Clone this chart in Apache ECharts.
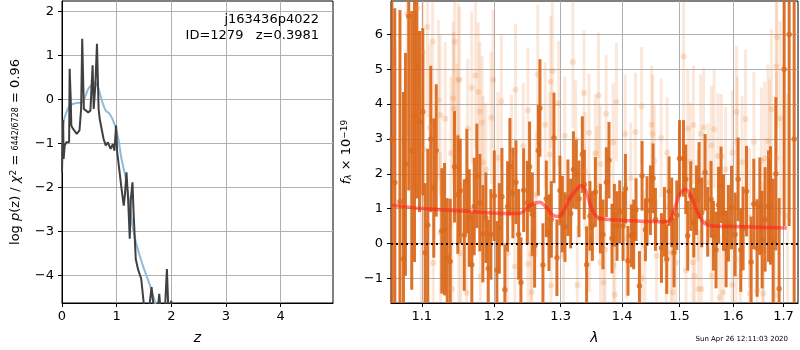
<!DOCTYPE html>
<html>
<head>
<meta charset="utf-8">
<script src="https://cdn.jsdelivr.net/npm/echarts@6/dist/echarts.min.js"></script>
<style>
  html, body { margin: 0; padding: 0; background: #fff; }
  #chart { width: 800px; height: 350px; }
</style>
</head>
<body>
<div id="chart"></div>
<script>
// left panel: log p(z)
const zSmooth = [0.00, 0.03, 0.08, 0.15, 0.26, 0.38, 0.43, 0.49, 0.60, 0.66, 0.72, 0.80, 0.87, 0.96, 1.03, 1.09, 1.17, 1.24, 1.30, 1.37, 1.48, 1.61, 1.78];
const pSmooth = [-1.00, -0.52, -0.30, -0.14, -0.09, -0.07, 0.08, 0.25, 0.37, 0.27, 0.01, -0.26, -0.33, -0.56, -0.90, -1.36, -1.81, -2.42, -2.95, -3.33, -3.78, -4.23, -4.95];

const zRaw = [0.00, 0.02, 0.03, 0.05, 0.08, 0.11, 0.13, 0.14, 0.16, 0.17, 0.20, 0.23, 0.27, 0.32, 0.35, 0.37, 0.40, 0.43, 0.48, 0.52, 0.56, 0.58, 0.61, 0.64, 0.67, 0.69, 0.76, 0.80, 0.84, 0.89, 0.93, 0.96, 0.99, 1.01, 1.04, 1.09, 1.13, 1.15, 1.18, 1.21, 1.24, 1.26, 1.29, 1.31, 1.35, 1.39, 1.45, 1.51, 1.58, 1.64, 1.69, 1.75, 1.78, 1.81, 1.88, 1.92, 1.95, 2.00, 2.03];
const pRaw = [-1.66, -0.48, -1.36, -1.05, -0.98, -1.02, -0.98, 0.69, 0.00, -0.60, -0.67, -0.64, -0.79, -0.71, -0.22, 1.37, -0.22, -0.18, -0.30, -0.26, 0.77, -0.22, 0.31, 1.26, -0.22, -0.45, -0.90, -1.05, -0.98, -1.13, -1.02, -1.17, -0.60, -1.20, -1.51, -2.04, -2.42, -2.19, -1.66, -2.27, -3.17, -2.27, -1.89, -2.57, -3.63, -3.86, -4.08, -4.80, -4.90, -4.27, -4.90, -4.85, -4.42, -4.90, -4.90, -3.86, -4.90, -4.58, -4.90];

// right panel: spectrum
const darkWave = [1.0612, 1.0648, 1.0715, 1.0760, 1.0786, 1.0829, 1.0868, 1.0904, 1.0934, 1.0970, 1.1013, 1.1045, 1.1080, 1.1120, 1.1160, 1.1193, 1.1268, 1.1305, 1.1342, 1.1383, 1.1442, 1.1488,
  1.1521, 1.1577, 1.1613, 1.1647, 1.1683, 1.1717, 1.1754, 1.1796, 1.1839, 1.1882, 1.1916, 1.1954, 1.2003, 1.2041, 1.2076, 1.2114, 1.2157, 1.2197, 1.2231, 1.2275, 1.2320, 1.2360, 1.2394, 1.2435,
  1.2490, 1.2524, 1.2565, 1.2600, 1.2656, 1.2681, 1.2727, 1.2779, 1.2819, 1.2856, 1.2897, 1.2943, 1.2990, 1.3028, 1.3069, 1.3116, 1.3159, 1.3202, 1.3249, 1.3291, 1.3345, 1.3377, 1.3414, 1.3468, 1.3507,
  1.3556, 1.3638, 1.3681, 1.3737, 1.3780, 1.3830, 1.3870, 1.3914, 1.3959, 1.4015, 1.4055, 1.4099, 1.4157, 1.4196, 1.4236, 1.4294, 1.4339, 1.4398, 1.4426, 1.4485, 1.4530, 1.4572, 1.4678,
  1.4731, 1.4772, 1.4813, 1.4861, 1.4902, 1.4951, 1.5000, 1.5072, 1.5114, 1.5150, 1.5205, 1.5260, 1.5310, 1.5358, 1.5408, 1.5469, 1.5519, 1.5581, 1.5626, 1.5675, 1.5721, 1.5770, 1.5816, 1.5866, 1.5911,
  1.5969, 1.6039, 1.6097, 1.6149, 1.6194, 1.6260, 1.6351, 1.6404, 1.6469, 1.6523, 1.6569, 1.6628, 1.6697, 1.6737, 1.6790, 1.6844, 1.6911, 1.7014, 1.7117, 1.7220];
const darkFlux = [3.00, 1.75, 1.20, -0.45, 2.27, 6.52, 2.67, 3.67, 5.09, 3.50, 3.78, -0.27, 0.52, 3.00, 1.59, 2.67, 0.36, 0.41, -0.40, -0.52, 2.20, 1.40,
  1.51, 0.24, 1.79, 0.73, -0.61, 1.06, 1.94, 1.17, 0.28, 0.74, -0.72, 0.26, 1.37, -0.76, 0.43, 1.34, -1.33, 1.06, 2.20, 1.45, 1.76, 0.26, -1.12, 1.53,
  1.17, 2.20, 0.84, -0.07, 2.67, 3.89, -0.62, 1.28, 0.31, 0.69, 3.03, -0.41, 1.52, 0.84, 0.47, 1.31, 0.86, 2.12, 1.98, 1.28, 2.55, 1.69, -0.61, 0.79, 0.50,
  1.48, 0.71, 0.26, 1.76, 2.39, 0.14, 0.81, 0.50, 0.91, 0.50, 1.57, -0.50, 0.22, 0.26, 0.97, -1.22, 1.94, 0.39, 0.93, 1.24, 1.87, 0.69, -0.13,
  0.62, -0.45, 1.50, 0.89, -0.26, 0.81, 2.44, 2.44, 1.84, 0.22, 1.36, 0.60, 1.24, 1.81, 0.89, 2.04, 0.62, 1.27, 0.22, -0.19, 1.10, 1.68, 0.89, -0.16, 0.58,
  1.03, 0.26, 1.84, -0.19, 0.43, 1.50, -0.53, 1.13, -0.13, 1.07, 0.11, 0.69, 1.07, 1.09, 0.06, 2.00, -1.30, 5.00, 6.00, 3.00];
const darkErr = [6.0, 5.0, 5.5, 4.8, 3.2, 5.0, 4.0, 4.2, 3.8, 2.6, 2.4, 2.0, 2.2, 2.1, 2.0, 1.9, 1.8, 1.9, 1.7, 1.8, 1.6, 1.7,
  1.5, 1.6, 1.5, 1.4, 1.5, 1.4, 1.5, 1.4, 1.4, 1.3, 1.4, 1.3, 1.3, 1.4, 1.3, 1.4, 1.3, 1.3, 1.4, 1.3, 1.2, 1.3, 1.3, 1.2,
  1.2, 1.3, 1.2, 1.2, 1.3, 1.4, 1.2, 1.1, 1.1, 1.1, 1.3, 1.1, 1.0, 1.1, 1.0, 1.1, 1.0, 1.1, 1.0, 1.1, 1.1, 1.0, 1.1, 1.0, 1.0,
  1.0, 1.0, 1.0, 1.0, 1.1, 1.0, 0.9, 1.0, 0.9, 1.0, 1.0, 1.0, 0.9, 1.0, 0.9, 1.0, 1.0, 0.9, 1.0, 1.0, 1.0, 0.9, 1.0,
  1.0, 1.0, 1.0, 1.0, 1.0, 1.0, 1.1, 1.1, 1.0, 1.0, 1.0, 1.0, 1.0, 1.1, 1.0, 1.1, 1.0, 1.1, 1.0, 1.1, 1.1, 1.1, 1.1, 1.1, 1.1,
  1.2, 1.2, 1.2, 1.2, 1.2, 1.3, 1.3, 1.3, 1.4, 1.4, 1.4, 1.5, 1.6, 1.7, 1.8, 2.2, 2.6, 4.5, 5.5, 6.0];

const lightWave = [1.0652, 1.0810, 1.0940, 1.0992, 1.1014, 1.1028, 1.1075, 1.1107, 1.1144, 1.1153, 1.1222, 1.1246, 1.1250, 1.1315, 1.1394, 1.1408, 1.1422, 1.1431, 1.1444, 1.1478, 1.1492, 1.1500,
  1.1510, 1.1528, 1.1611, 1.1625, 1.1681, 1.1736, 1.1773, 1.1797, 1.1803, 1.1829, 1.1843, 1.1881, 1.1958, 1.1986, 1.2055, 1.2105, 1.2194, 1.2254, 1.2304, 1.2313, 1.2428,
  1.2498, 1.2503, 1.2548, 1.2555, 1.2623, 1.2648, 1.2761, 1.2832, 1.2847, 1.2852, 1.2872, 1.2970, 1.3048, 1.3065, 1.3194, 1.3237, 1.3265, 1.3371, 1.3387, 1.3452, 1.3460,
  1.3555, 1.3581, 1.3608, 1.3635, 1.3640, 1.3688, 1.3716, 1.3732, 1.3850, 1.3855, 1.3877, 1.3903, 1.4052, 1.4070, 1.4146, 1.4226, 1.4331, 1.4335, 1.4390, 1.4505, 1.4523, 1.4552, 1.4592,
  1.4674, 1.4761, 1.4779, 1.4848, 1.4878, 1.4935, 1.5075, 1.5118, 1.5150, 1.5199, 1.5244, 1.5255, 1.5274, 1.5338, 1.5345, 1.5387, 1.5400, 1.5443, 1.5526, 1.5588, 1.5593, 1.5638, 1.5713, 1.5744, 1.5775, 1.5807, 1.5856,
  1.5981, 1.5987, 1.6054, 1.6066, 1.6080, 1.6140, 1.6174, 1.6240, 1.6320, 1.6325, 1.6406, 1.6474, 1.6554, 1.6586, 1.6590, 1.6620, 1.6686, 1.6720, 1.6754, 1.6820, 1.6854, 1.6860, 1.6866, 1.6934, 1.7086];
const lightFlux = [1.08, 6.60, 6.75, 1.27, 5.50, 2.70, 6.22, 3.32, 5.79, -0.56, 4.11, 3.68, 0.31, 3.58, 2.59, -1.31, 4.17, 3.87, 5.79, 3.06, 4.70, 0.13,
  4.70, -0.28, -1.42, 3.30, 4.47, 4.82, 4.35, 3.79, -0.95, 3.47, 2.33, 2.12, 3.61, 4.70, 2.46, 4.08, -0.28, 2.46, -0.66, 4.41, 2.80,
  3.82, -0.59, -0.31, -1.40, 1.40, 4.85, 3.41, 2.55, 4.64, -1.21, 4.95, 4.02, -0.36, 3.09, 5.21, 2.98, -1.19, 4.32, 2.07, 3.18, 0.31,
  2.58, 1.67, 4.25, 2.27, -0.55, -1.12, -0.18, 3.72, 2.90, -0.62, -1.47, 4.06, 3.15, 0.14, 1.87, 3.20, 3.94, -1.00, -0.07, 3.41, 3.15, 2.37, -0.36,
  3.03, -0.50, 2.60, -0.26, -1.40, -0.55, 5.37, -0.78, 3.30, 2.34, -0.55, 3.40, -0.93, 1.08, -1.31, 3.15, -1.31, 3.33, 1.75, 2.82, -0.93, 3.28, 2.51, -1.55, 2.49, -1.40, 2.13,
  -1.19, 2.60, -0.45, 3.77, 2.89, -0.93, 2.33, 3.57, 0.74, -1.44, 2.92, -1.35, 2.37, -0.35, -1.44, 2.44, 2.94, 2.51, 3.85, -1.49, 5.09, 2.44, 5.93, 3.59, 0.79];
const lightErr = [4.5, 3.5, 3.2, 3.0, 2.8, 2.8, 2.6, 2.4, 2.5, 2.4, 2.3, 2.3, 2.3, 2.2, 2.2, 2.3, 2.2, 2.2, 2.4, 2.1, 2.2, 2.1,
  2.1, 2.0, 2.1, 2.0, 2.2, 2.1, 2.0, 2.0, 2.0, 1.9, 1.9, 1.9, 1.9, 2.0, 1.9, 1.9, 1.9, 1.8, 1.9, 1.9, 1.8,
  1.8, 1.8, 1.8, 1.8, 1.8, 2.0, 1.8, 1.8, 1.9, 1.8, 2.0, 1.8, 1.7, 1.7, 1.9, 1.7, 1.7, 1.8, 1.7, 1.7, 1.7,
  1.7, 1.7, 1.8, 1.7, 1.7, 1.7, 1.7, 1.7, 1.7, 1.7, 1.7, 1.7, 1.7, 1.7, 1.6, 1.7, 1.7, 1.6, 1.6, 1.7, 1.7, 1.6, 1.6,
  1.7, 1.6, 1.6, 1.6, 1.7, 1.6, 2.0, 1.6, 1.7, 1.7, 1.6, 1.7, 1.6, 1.6, 1.7, 1.7, 1.7, 1.7, 1.7, 1.7, 1.7, 1.7, 1.8, 1.8, 1.8, 1.8, 1.8,
  1.8, 1.8, 1.8, 1.9, 1.9, 1.9, 1.9, 2.0, 2.0, 2.0, 2.0, 2.1, 2.1, 2.1, 2.1, 2.2, 2.2, 2.2, 2.3, 2.4, 2.5, 2.5, 2.6, 2.8, 3.5];

const modelWave = [1.0614, 1.1013, 1.1570, 1.2036, 1.2334, 1.2410, 1.2535, 1.2674, 1.2785, 1.2894, 1.2973, 1.3059, 1.3167, 1.3274, 1.3328, 1.3398, 1.3462, 1.3543, 1.3651, 1.3838, 1.4117, 1.4466, 1.4756, 1.4826, 1.4931, 1.5019, 1.5113, 1.5206, 1.5330, 1.5456, 1.5612, 1.6254, 1.7066];
const modelFlux = [1.10, 1.00, 0.93, 0.87, 0.86, 0.89, 1.10, 1.18, 1.02, 0.80, 0.78, 0.97, 1.35, 1.59, 1.66, 1.53, 1.17, 0.84, 0.71, 0.68, 0.65, 0.63, 0.62, 0.65, 1.08, 1.45, 1.55, 1.37, 0.89, 0.58, 0.50, 0.48, 0.44];

const zTicks = [0, 1, 2, 3, 4];
const pTicks = [-4, -3, -2, -1, 0, 1, 2];
const waveTicks = [1.1, 1.2, 1.3, 1.4, 1.5, 1.6, 1.7];
const fluxTicks = [-1, 0, 1, 2, 3, 4, 5, 6];

const colors = {
    dark: '#db6a1b',
    darkBar: 'rgba(217,100,20,0.9)',
    lightBar: 'rgba(235,140,70,0.2)',
    lightDot: 'rgba(235,140,70,0.3)',
    model: 'rgba(255,30,30,0.55)',
    pzSmooth: '#8fbbd9',
    pzRaw: '#404040',
    grid: '#b0b0b0'
};

const font = 'DejaVu Sans';
const minus = v => String(v).replace('-', '\u2212');

function makeAxis(extra) {
    return Object.assign({
        axisLine: { show: true, onZero: false, lineStyle: { color: '#000', width: 1 } },
        axisTick: { show: true, inside: false, length: 4, lineStyle: { color: '#000' } },
        axisLabel: { color: '#000', fontSize: 13, fontFamily: font, margin: 7 },
        splitLine: { show: true, lineStyle: { color: colors.grid, width: 1 } },
        nameTextStyle: { color: '#000', fontFamily: font, fontSize: 14 }
    }, extra);
}

// vertical error bar from (x, lo) to (x, hi)
function errorBars(color, width) {
    return function (params, api) {
        const a = api.coord([api.value(0), api.value(1)]);
        const b = api.coord([api.value(0), api.value(2)]);
        return {
            type: 'line',
            shape: { x1: a[0], y1: a[1], x2: b[0], y2: b[1] },
            style: { stroke: color, lineWidth: width }
        };
    };
}

const pair = (xs, ys) => xs.map((x, i) => [x, ys[i]]);
const bars = (xs, ys, es) => xs.map((x, i) => [x, ys[i] - es[i], ys[i] + es[i]]);

const chart = echarts.init(document.getElementById('chart'), null, { renderer: 'canvas' });

const option = {
    animation: false,
    backgroundColor: '#fff',
    title: [{
        text: 'j163436p4022\nID=1279   z=0.3981',
        left: 319, top: 12, padding: 0,
        textAlign: 'right',
        textStyle: { fontFamily: font, fontSize: 13, fontWeight: 'normal', color: '#000', lineHeight: 16 }
    }, {
        text: 'Sun Apr 26 12:11:03 2020',
        left: 788, top: 336, padding: 0,
        textAlign: 'right',
        textStyle: { fontFamily: font, fontSize: 7, fontWeight: 'normal', color: '#000' }
    }],
    grid: [
        { left: 62, top: 1, width: 271, height: 303, show: true, borderColor: '#000', borderWidth: 1, backgroundColor: 'transparent' },
        { left: 391, top: 1, width: 407, height: 303, show: true, borderColor: '#000', borderWidth: 1, backgroundColor: 'transparent' }
    ],
    xAxis: [
        makeAxis({
            type: 'value', gridIndex: 0, min: 0, max: 4.96,
            name: 'z', nameLocation: 'middle', nameGap: 28,
            nameTextStyle: { color: '#000', fontFamily: font, fontSize: 14, fontStyle: 'italic' },
            axisTick: { show: true, length: 4, lineStyle: { color: '#000' }, customValues: zTicks },
            axisLabel: { color: '#000', fontSize: 13, fontFamily: font, margin: 7, customValues: zTicks }
        }),
        makeAxis({
            type: 'log', gridIndex: 1, min: 1.06, max: 1.73,
            name: 'λ', nameLocation: 'middle', nameGap: 28,
            nameTextStyle: { color: '#000', fontFamily: font, fontSize: 14, fontStyle: 'italic' },
            axisTick: { show: true, length: 4, lineStyle: { color: '#000' }, customValues: waveTicks },
            axisLabel: { color: '#000', fontSize: 13, fontFamily: font, margin: 7, customValues: waveTicks, formatter: v => v.toFixed(1) },
            minorTick: { show: false }, minorSplitLine: { show: false }
        })
    ],
    yAxis: [
        makeAxis({
            type: 'value', gridIndex: 0, min: -4.63, max: 2.23,
            name: '{t|log }{i|p}{t|(z) / }{i|χ}{s|2}{t| = }{f|6442/6728}{t| = 0.96}',
            nameLocation: 'middle', nameGap: 40, nameRotate: 90,
            nameTextStyle: {
                color: '#000', fontFamily: font, fontSize: 13,
                rich: {
                    t: { fontFamily: font, fontSize: 13, color: '#000' },
                    i: { fontFamily: font, fontSize: 13, fontStyle: 'italic', color: '#000' },
                    s: { fontFamily: font, fontSize: 9, color: '#000', verticalAlign: 'top' },
                    f: { fontFamily: font, fontSize: 8, color: '#000' }
                }
            },
            axisTick: { show: true, length: 4, lineStyle: { color: '#000' }, customValues: pTicks },
            axisLabel: { color: '#000', fontSize: 13, fontFamily: font, margin: 8, customValues: pTicks, formatter: minus }
        }),
        makeAxis({
            type: 'value', gridIndex: 1, min: -1.71, max: 6.96,
            name: '{i|f}{b|λ}{t| × 10}{s|−19}',
            nameLocation: 'middle', nameGap: 38, nameRotate: 90,
            nameTextStyle: {
                color: '#000', fontFamily: font, fontSize: 13,
                rich: {
                    t: { fontFamily: font, fontSize: 13, color: '#000' },
                    i: { fontFamily: font, fontSize: 13, fontStyle: 'italic', color: '#000' },
                    b: { fontFamily: font, fontSize: 9, fontStyle: 'italic', color: '#000', verticalAlign: 'bottom' },
                    s: { fontFamily: font, fontSize: 9, color: '#000', verticalAlign: 'top' }
                }
            },
            axisTick: { show: true, length: 4, lineStyle: { color: '#000' }, customValues: fluxTicks },
            axisLabel: { color: '#000', fontSize: 13, fontFamily: font, margin: 8, customValues: fluxTicks, formatter: minus }
        })
    ],
    series: [
        {
            type: 'line', xAxisIndex: 0, yAxisIndex: 0, clip: true,
            data: pair(zSmooth, pSmooth), showSymbol: false, smooth: 0.3,
            lineStyle: { color: colors.pzSmooth, width: 2 }
        },
        {
            type: 'line', xAxisIndex: 0, yAxisIndex: 0, clip: true,
            data: pair(zRaw, pRaw), showSymbol: false,
            lineStyle: { color: colors.pzRaw, width: 2 }
        },
        {
            type: 'custom', xAxisIndex: 1, yAxisIndex: 1, clip: true,
            data: bars(lightWave, lightFlux, lightErr),
            renderItem: errorBars(colors.lightBar, 3)
        },
        {
            type: 'scatter', xAxisIndex: 1, yAxisIndex: 1, clip: true,
            data: pair(lightWave, lightFlux), symbolSize: 6,
            itemStyle: { color: colors.lightDot }
        },
        {
            type: 'custom', xAxisIndex: 1, yAxisIndex: 1, clip: true,
            data: bars(darkWave, darkFlux, darkErr),
            renderItem: errorBars(colors.darkBar, 3)
        },
        {
            type: 'scatter', xAxisIndex: 1, yAxisIndex: 1, clip: true,
            data: pair(darkWave, darkFlux), symbolSize: 5.5,
            itemStyle: { color: colors.dark }
        },
        {
            type: 'line', xAxisIndex: 1, yAxisIndex: 1, clip: true,
            data: pair(modelWave, modelFlux), showSymbol: false, smooth: 0.4,
            lineStyle: { color: colors.model, width: 3.5 },
            markLine: {
                silent: true, symbol: 'none',
                label: { show: false },
                lineStyle: { color: '#000', type: [2, 3], width: 2 },
                data: [{ yAxis: 0 }]
            }
        }
    ]
};

chart.setOption(option);
</script>
</body>
</html>
